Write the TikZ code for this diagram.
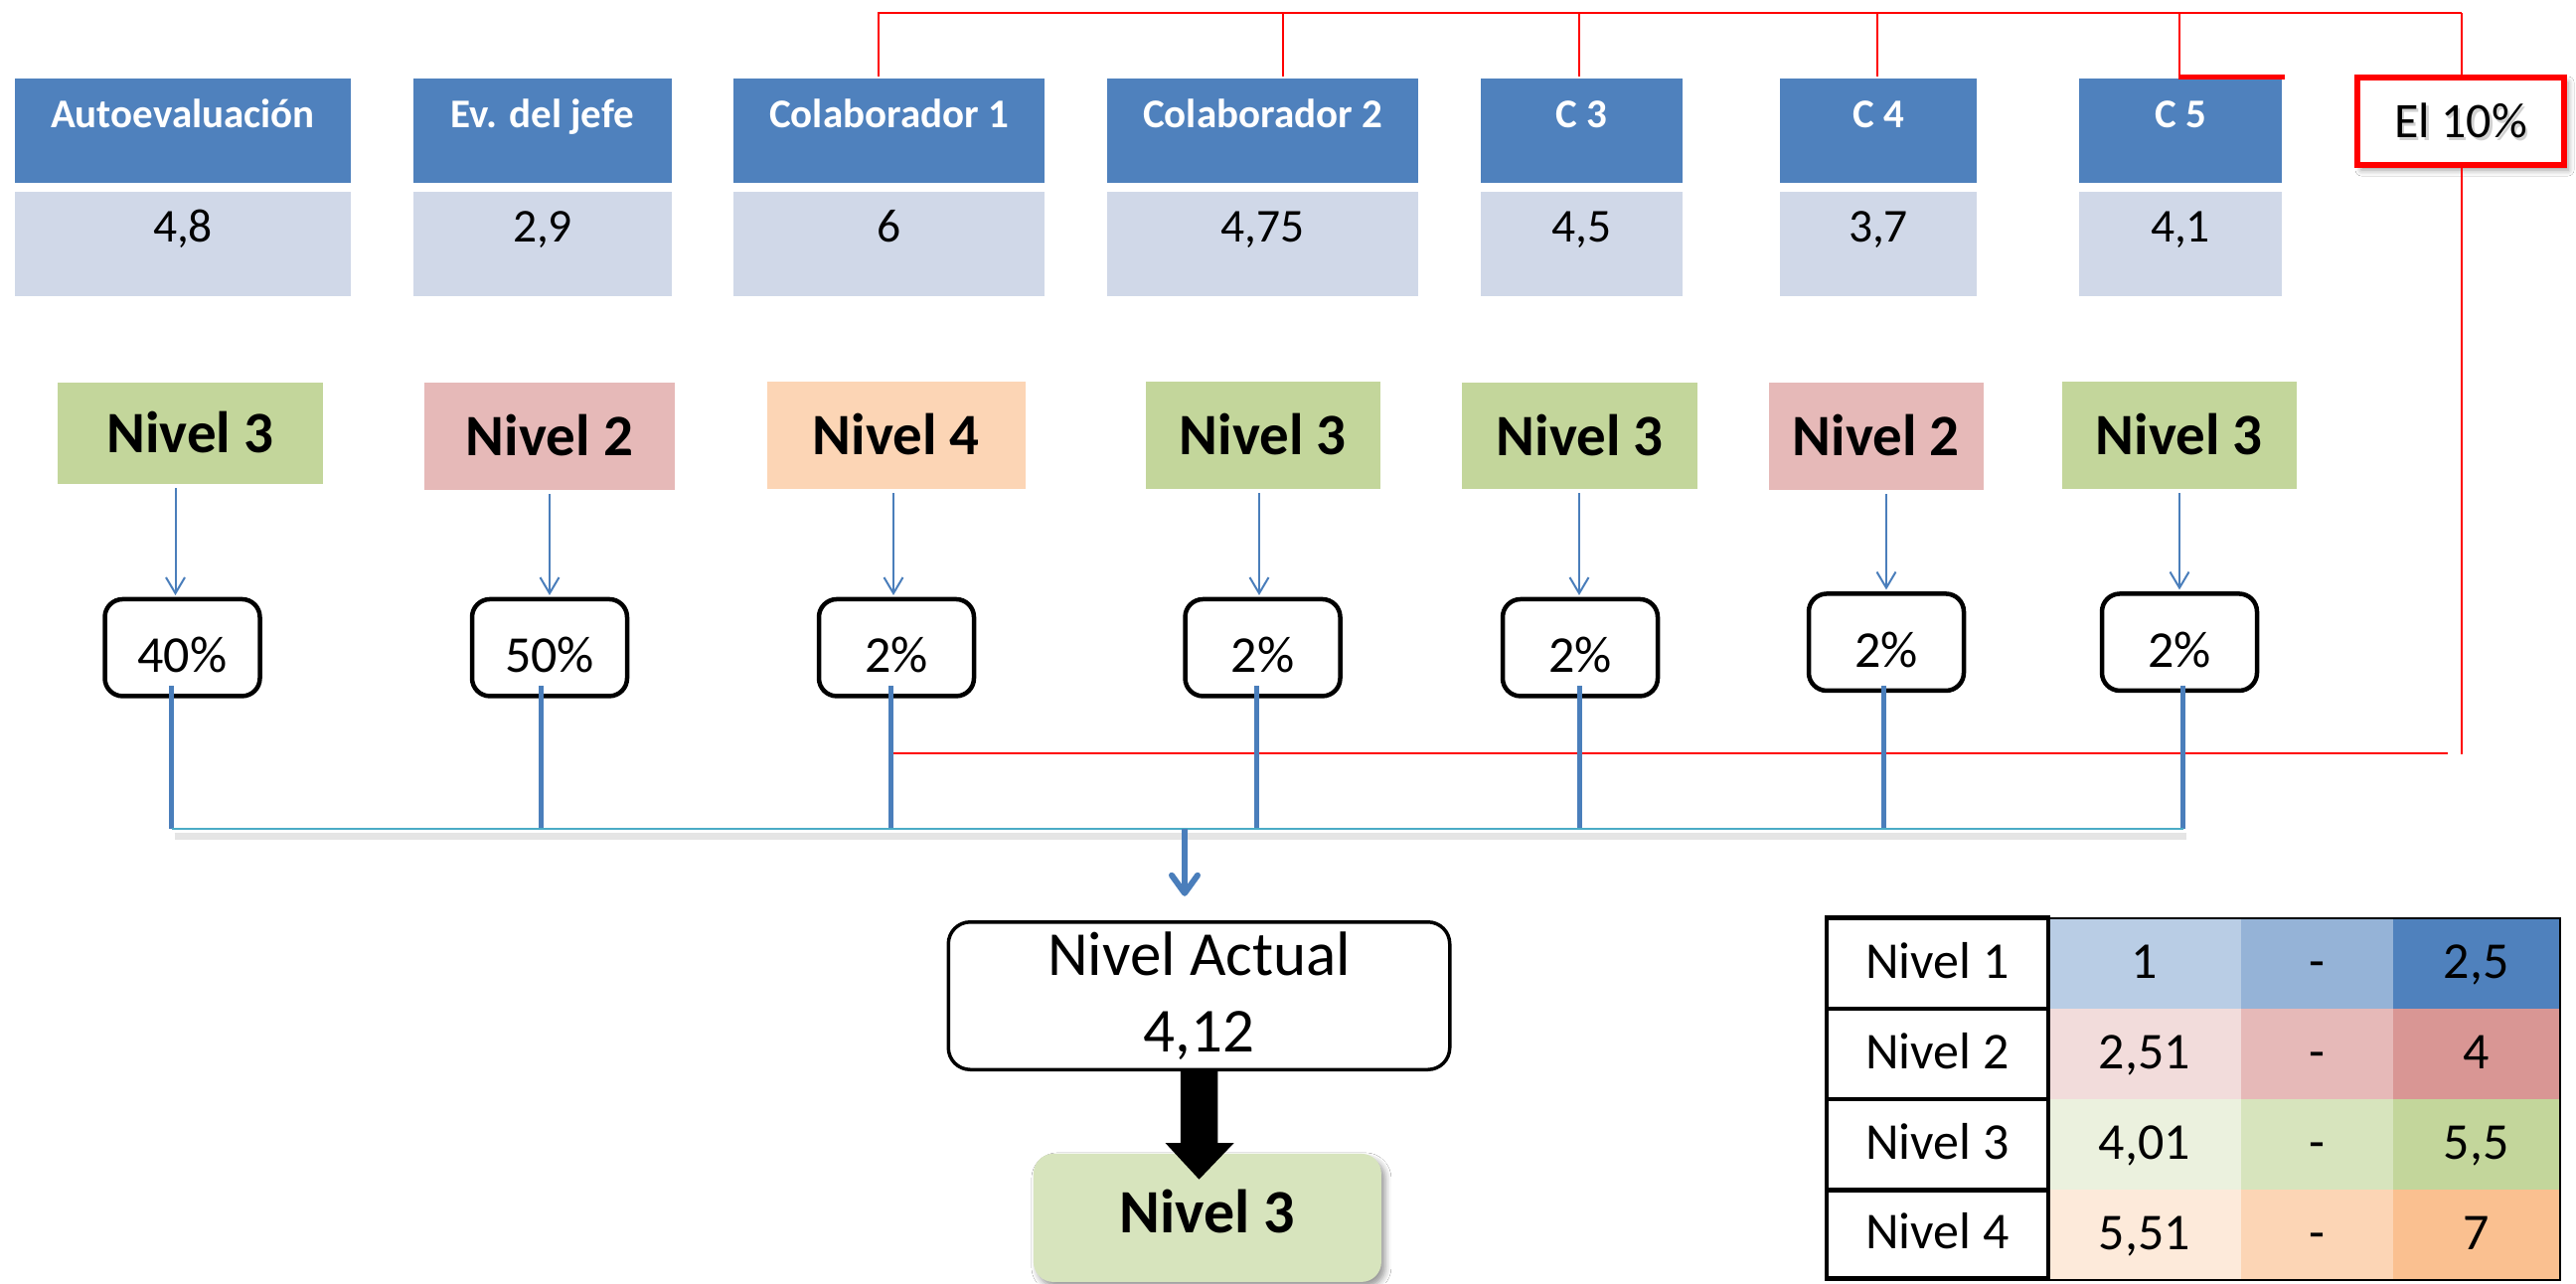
\documentclass[tikz,border=0pt]{standalone}
\usepackage{fontspec}
\setmainfont{Carlito}
\usetikzlibrary{arrows.meta,shadows.blur,calc}
\definecolor{hdrblue}{HTML}{4F81BD}
\definecolor{valblue}{HTML}{D0D8E8}
\definecolor{lvgreen}{HTML}{C3D69B}
\definecolor{lvpink}{HTML}{E6B9B8}
\definecolor{lvpeach}{HTML}{FCD5B5}
\definecolor{resgreen}{HTML}{D7E4BD}
\definecolor{buscyan}{HTML}{4BACC6}
\definecolor{lnblue}{HTML}{4A7EBB}
\definecolor{pptred}{HTML}{FF0000}
\definecolor{ta1}{HTML}{B9CDE5}\definecolor{ta2}{HTML}{95B3D7}\definecolor{ta3}{HTML}{4F81BD}
\definecolor{tb1}{HTML}{F2DCDB}\definecolor{tb2}{HTML}{E6B9B8}\definecolor{tb3}{HTML}{D99694}
\definecolor{tc1}{HTML}{EBF1DE}\definecolor{tc2}{HTML}{D7E4BD}\definecolor{tc3}{HTML}{C3D69B}
\definecolor{td1}{HTML}{FDEADA}\definecolor{td2}{HTML}{FCD5B5}\definecolor{td3}{HTML}{FAC090}
\begin{document}
\begin{tikzpicture}[x=1pt,y=-1pt,
  every node/.style={inner sep=0pt, outer sep=0pt},
  hdr/.style={fill=hdrblue, minimum height=105pt, text=white,
    font=\fontsize{41}{49}\selectfont\bfseries, text height=0pt, text depth=7pt},
  val/.style={fill=valblue, minimum height=105pt,
    font=\fontsize{47.5}{57}\selectfont, text height=0pt, text depth=4pt},
  lvl/.style={font=\fontsize{59}{70}\selectfont\bfseries, text height=39pt, text depth=0pt},
  pct/.style={draw=black, line width=4.5pt, rounded corners=18pt, fill=white,
    minimum width=156pt, minimum height=97.5pt,
    font=\fontsize{52}{62}\selectfont, text height=50pt, text depth=0pt},
  lvarrow/.style={draw=lnblue, line width=2pt, -{Straight Barb[length=16pt,width=19pt]},
    shorten <=4pt, shorten >=4pt},
  dropline/.style={draw=lnblue, line width=5pt},
  redline/.style={draw=pptred, line width=2pt},
  lcell/.style={draw=black, line width=4.5pt, fill=white, minimum width=223pt,
    font=\fontsize{52}{62}\selectfont, text height=30pt, text depth=0pt},
  ccell/.style={font=\fontsize{52}{62}\selectfont, text height=30pt, text depth=0pt}
]
\fill[white] (0,0) rectangle (2592,1291);
\useasboundingbox (0,0) rectangle (2592,1291);

% header boxes
\node[hdr, minimum width=338pt] (h1) at (184,131.8) {Autoevaluación};
\node[hdr, minimum width=260pt] (h2) at (546,131.8) {Ev. del jefe};
\node[hdr, minimum width=313pt] (h3) at (894.5,131.8) {Colaborador 1};
\node[hdr, minimum width=313pt] (h4) at (1270.5,131.8) {Colaborador 2};
\node[hdr, minimum width=203pt] (h5) at (1591.5,131.8) {C 3};
\node[hdr, minimum width=198pt] (h6) at (1890,131.8) {C 4};
\node[hdr, minimum width=204pt] (h7) at (2194,131.8) {C 5};

% value boxes
\node[val, minimum width=338pt] (v1) at (184,245.2) {4,8};
\node[val, minimum width=260pt] (v2) at (546,245.2) {2,9};
\node[val, minimum width=313pt] (v3) at (894.5,245.2) {6};
\node[val, minimum width=313pt] (v4) at (1270.5,245.2) {4,75};
\node[val, minimum width=203pt] (v5) at (1591.5,245.2) {4,5};
\node[val, minimum width=198pt] (v6) at (1890,245.2) {3,7};
\node[val, minimum width=204pt] (v7) at (2194,245.2) {4,1};

% level boxes
\node[lvl, fill=lvgreen, minimum width=267pt, minimum height=102pt] (l1) at (191.5,436) {Nivel 3};
\node[lvl, fill=lvpink, minimum width=252pt, minimum height=108pt] (l2) at (553,439) {Nivel 2};
\node[lvl, fill=lvpeach, minimum width=259.5pt, minimum height=108pt] (l3) at (901.75,438) {Nivel 4};
\node[lvl, fill=lvgreen, minimum width=236.4pt, minimum height=108pt] (l4) at (1270.8,438) {Nivel 3};
\node[lvl, fill=lvgreen, minimum width=236.6pt, minimum height=107pt] (l5) at (1589.7,438.5) {Nivel 3};
\node[lvl, fill=lvpink, minimum width=216.4pt, minimum height=108pt] (l6) at (1887.8,439) {Nivel 2};
\node[lvl, fill=lvgreen, minimum width=236.5pt, minimum height=108pt] (l7) at (2192.75,438) {Nivel 3};

% percent boxes
\node[pct] (p1) at (183.5,651.7) {40\%};
\node[pct] (p2) at (553,651.7) {50\%};
\node[pct] (p3) at (902,651.7) {2\%};
\node[pct] (p4) at (1270.5,651.7) {2\%};
\node[pct] (p5) at (1590,651.7) {2\%};
\node[pct] (p6) at (1898,646.2) {2\%};
\node[pct] (p7) at (2193,646.2) {2\%};

% thin arrows level -> percent
\foreach \i/\dx in {1/-7,2/0,3/-3,4/-3.5,5/-1,6/0,7/0}
  \draw[lvarrow] ($(p\i.north |- l\i.south)+(\dx,0)$) -- ($(p\i.north)+(\dx,0)$);

% red connectors
\coordinate (rtop) at (2476.7,13.3);
\coordinate (rbot) at (2476.7,759.3);
\coordinate (rhl) at (894,758.3);
\coordinate (rhr) at (2462.7,758.3);
\draw[redline] ($(h3.north)+(-10.5,-2.6)$) |- (rtop);
\draw[redline] ($(h4.north)+(20.5,-2.6)$) |- (rtop);
\draw[redline] ($(h5.north)+(-2.5,-2.6)$) |- (rtop);
\draw[redline] ($(h6.north)+(-1,-2.6)$) |- (rtop);
\draw[redline] ($(h7.north)+(-1,-1)$) |- (rtop);
\draw[draw=pptred, line width=5pt] ($(h7.north)+(-2.3,-1.8)$) -- ($(h7.north east)+(3,-1.8)$);
\draw[redline] (rhl) -- (rhr);

% bus
\coordinate (busL) at (172.5,834);
\coordinate (busR) at (2196.5,834);
\coordinate (busM) at (1192,834);
\draw[black, opacity=0.10, line width=7pt] ($(busL)+(3,7)$) -- ($(busR)+(3,7)$);
\foreach \i/\dx/\dy in {1/-11/-10,2/-9/-10,3/-5.6/-10,4/-6/-10,5/-1/-10,6/-2.3/-5,7/3.5/-5}
  \draw[dropline] ($(p\i.south)+(\dx,\dy)$) -- ($(p\i.south |- busL)+(\dx,0)$);
\draw[draw=buscyan, line width=2.5pt] (busL) -- (busR);

% Nivel actual
\node[draw=black, line width=3.5pt, rounded corners=22pt, fill=white,
  minimum width=504.5pt, minimum height=148.5pt, align=center,
  font=\fontsize{63}{76.6}\selectfont] (na) at (1206.5,1002) {Nivel Actual\\4,12};
\draw[draw=lnblue, line width=6pt, -{Straight Barb[length=18pt,width=26pt,round]}]
  (busM) -- ($(na.north)+(-14.5,-26)$);

% result
\node[fill=resgreen, rounded corners=20pt, minimum width=350pt, minimum height=129pt,
  font=\fontsize{62}{74}\selectfont\bfseries, text height=31pt, text depth=0pt,
  blur shadow={shadow xshift=4pt, shadow yshift=-5pt, shadow blur radius=6pt}]
  (res) at (1214.9,1225.4) {Nivel 3};
\fill[black] ($(na.south)+(-18.75,0)$) -- ++(0,73.75) -- ++(-15.25,0)
  -- ($(res.north)+(-8.4,25.8)$) -- ++(35.2,-36.7) -- ++(-16.4,0)
  -- ($(na.south)+(18.8,0)$) -- cycle;

% El 10%
\node[draw=pptred, line width=6pt, fill=white, minimum width=208pt, minimum height=88pt,
  font=\fontsize{50}{60}\selectfont, text height=32pt, text depth=0pt,
  blur shadow={shadow xshift=4pt, shadow yshift=-5pt, shadow blur radius=6pt}]
  (e) at (2476,122) {\rlap{\kern2.5pt\raisebox{-3.5pt}{\textcolor{black!18}{El 10\%}}}El 10\%};
\draw[redline] (rtop) -- (rtop |- e.north);
\draw[redline] (e.south -| rtop) -- (rbot);

% table: coloured cells
\node[ccell, fill=ta1, minimum width=193.5pt, minimum height=91pt] (ta1) at (2157.75,969.5) {1};
\node[ccell, fill=ta2, minimum width=153.1pt, minimum height=91pt] (ta2) at (2331.05,969.5) {-};
\node[ccell, fill=ta3, minimum width=168.4pt, minimum height=91pt] (ta3) at (2491.8,969.5) {2,5};
\node[ccell, fill=tb1, minimum width=193.5pt, minimum height=91pt] (tb1) at (2157.75,1060.5) {2,51};
\node[ccell, fill=tb2, minimum width=153.1pt, minimum height=91pt] (tb2) at (2331.05,1060.5) {-};
\node[ccell, fill=tb3, minimum width=168.4pt, minimum height=91pt] (tb3) at (2491.8,1060.5) {4};
\node[ccell, fill=tc1, minimum width=193.5pt, minimum height=91.3pt] (tc1) at (2157.75,1151.65) {4,01};
\node[ccell, fill=tc2, minimum width=153.1pt, minimum height=91.3pt] (tc2) at (2331.05,1151.65) {-};
\node[ccell, fill=tc3, minimum width=168.4pt, minimum height=91.3pt] (tc3) at (2491.8,1151.65) {5,5};
\node[ccell, fill=td1, minimum width=193.5pt, minimum height=91pt] (td1) at (2157.75,1242.8) {5,51};
\node[ccell, fill=td2, minimum width=153.1pt, minimum height=91pt] (td2) at (2331.05,1242.8) {-};
\node[ccell, fill=td3, minimum width=168.4pt, minimum height=91pt] (td3) at (2491.8,1242.8) {7};
\draw[line width=2pt] (ta1.north west) rectangle (td3.south east);

% table: label column
\node[lcell, minimum height=91.7pt] (tl1) at (1949.5,969.15) {Nivel 1};
\node[lcell, minimum height=91pt] (tl2) at (1949.5,1060.5) {Nivel 2};
\node[lcell, minimum height=91.3pt] (tl3) at (1949.5,1151.65) {Nivel 3};
\node[lcell, minimum height=89.2pt] (tl4) at (1949.5,1241.9) {Nivel 4};
\end{tikzpicture}
\end{document}
